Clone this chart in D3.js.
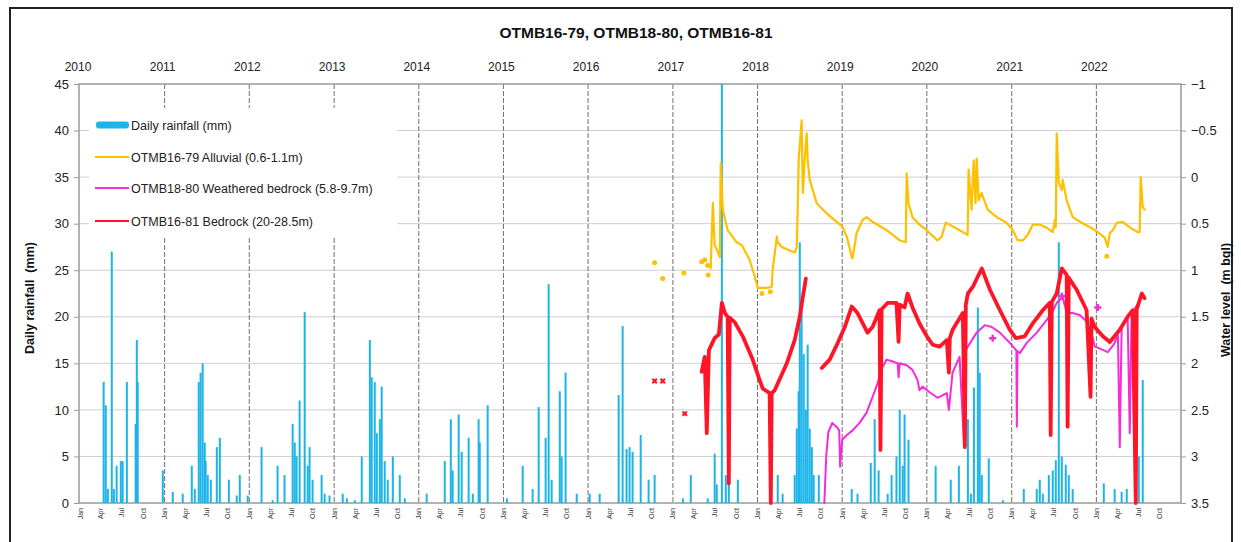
<!DOCTYPE html>
<html>
<head>
<meta charset="utf-8">
<script src="https://cdn.jsdelivr.net/npm/d3@7"></script>
<style>
  body { margin: 0; background: #fff; }
  svg text { font-family: "Liberation Sans", Arial, sans-serif; }
</style>
</head>
<body>
<svg id="chart" width="1241" height="542"></svg>
<script>
// ---- Data -------------------------------------------------------------
const chartTitle = "OTMB16-79, OTMB18-80, OTMB16-81";

// Daily rainfall (mm)
const rainfall = [
  ["2010-04-13",13],["2010-04-22",10.5],["2010-05-01",1.5],["2010-05-18",27],["2010-05-27",1.5],
  ["2010-06-08",4],["2010-06-26",4.5],["2010-07-04",4.5],["2010-07-22",13],["2010-08-29",8.5],
  ["2010-09-03",17.5],["2010-09-07",13],
  ["2010-12-24",3.5],["2011-02-05",1.2],["2011-03-20",1],["2011-04-28",4],["2011-05-11",1.5],
  ["2011-05-28",13],["2011-06-05",14],["2011-06-14",15],["2011-06-23",6.5],["2011-06-27",4.5],
  ["2011-07-06",3],["2011-07-19",2.5],["2011-08-14",6],["2011-08-27",7],["2011-10-05",2.5],
  ["2011-11-08",0.8],["2011-11-21",3],["2011-12-25",0.8],
  ["2012-02-23",6],["2012-04-11",0.3],["2012-05-02",4],["2012-06-01",3],["2012-07-06",8.5],
  ["2012-07-15",6.5],["2012-07-23",5],["2012-08-05",11],["2012-08-27",20.5],["2012-09-09",4],
  ["2012-09-17",6],["2012-09-30",2.5],["2012-11-08",3],["2012-11-21",1],["2012-12-12",0.8],
  ["2013-02-07",1],["2013-02-25",0.5],["2013-03-31",0.3],["2013-04-30",5],["2013-06-04",17.5],
  ["2013-06-12",13.5],["2013-06-25",13],["2013-07-04",7.5],["2013-07-17",9],["2013-07-25",12.5],
  ["2013-08-07",4.5],["2013-08-20",2.5],["2013-09-11",5],["2013-10-11",3],["2013-11-02",0.5],
  ["2014-02-04",1],["2014-04-23",4.5],["2014-05-19",9],["2014-05-27",3.5],["2014-06-22",9.5],
  ["2014-07-05",5.5],["2014-08-04",7],["2014-08-22",1],["2014-09-16",9],["2014-09-21",6.5],
  ["2014-10-25",10.5],
  ["2015-01-16",0.5],["2015-03-25",4],["2015-05-07",1.5],["2015-06-02",10.3],["2015-07-02",7],
  ["2015-07-15",23.5],["2015-07-28",2.5],["2015-09-01",12],["2015-09-09",5],["2015-09-26",14],
  ["2015-11-13",1],
  ["2016-01-08",1],["2016-02-20",1],["2016-05-12",11.6],["2016-05-29",19],["2016-06-15",5.8],
  ["2016-06-28",6],["2016-07-11",5.5],["2016-08-15",7.3],["2016-09-18",2.5],["2016-10-14",3],
  ["2017-02-13",0.5],["2017-03-19",3],["2017-05-31",0.5],["2017-06-30",5.3],["2017-07-09",2],
  ["2017-07-31",45],["2017-08-17",3],["2017-08-30",5.5],["2017-10-08",2.5],
  ["2018-03-29",3],["2018-04-19",1],["2018-06-10",3],["2018-06-19",8],["2018-06-27",12],
  ["2018-07-02",28],["2018-07-10",22],["2018-07-19",16],["2018-07-28",10],["2018-08-05",17],
  ["2018-08-14",8],["2018-08-23",6],["2018-08-31",3],["2018-09-22",3],
  ["2019-02-11",1.5],["2019-03-08",1],["2019-05-04",4.3],["2019-05-21",9],["2019-06-07",3.5],
  ["2019-07-16",1],["2019-08-02",3],["2019-08-23",5],["2019-09-06",10],["2019-09-19",4],
  ["2019-09-27",9.5],["2019-10-14",6.8],
  ["2020-02-08",4],["2020-04-13",2.5],["2020-05-18",4],["2020-06-26",9],["2020-07-09",1],
  ["2020-07-22",12.4],["2020-08-08",21],["2020-08-16",14],["2020-08-25",3],["2020-09-24",4.8],
  ["2020-11-24",0.3],
  ["2021-02-22",1.5],["2021-04-19",1.5],["2021-05-02",2.5],["2021-05-15",1],["2021-06-10",3],
  ["2021-06-27",3.5],["2021-07-10",4.6],["2021-07-23",28],["2021-08-05",5],["2021-08-22",4.1],
  ["2021-09-04",3],["2021-09-21",1.5],
  ["2022-02-02",2.1],["2022-03-21",1.5],["2022-04-20",1.2],["2022-05-12",1.5],["2022-07-03",5],
  ["2022-07-20",13.2]
];

// OTMB16-79 Alluvial (0.6-1.1m), water level m bgl
const alluvial = [
  ["2017-06-13",0.98],["2017-06-22",0.28],["2017-06-30",0.73],["2017-07-13",0.80],["2017-07-22",0.86],
  ["2017-07-26",-0.15],["2017-08-04",0.35],["2017-08-25",0.57],["2017-10-03",0.70],["2017-10-25",0.73],
  ["2017-11-28",0.89],["2017-12-20",1.07],["2018-01-02",1.19],["2018-02-10",1.19],["2018-03-03",1.18],
  ["2018-03-07",1.00],["2018-03-25",0.64],["2018-03-29",0.70],["2018-04-15",0.75],["2018-06-10",0.81],
  ["2018-06-19",0.75],["2018-06-23",0.35],["2018-06-27",-0.18],["2018-07-10",-0.61],["2018-07-15",0.17],
  ["2018-07-23",-0.18],["2018-08-01",-0.47],["2018-08-05",-0.18],["2018-08-14",0.03],["2018-09-13",0.28],
  ["2018-10-26",0.39],["2018-12-08",0.48],["2019-01-01",0.53],["2019-01-21",0.64],["2019-02-11",0.86],
  ["2019-02-15",0.87],["2019-03-04",0.60],["2019-03-30",0.46],["2019-04-16",0.43],["2019-05-12",0.48],
  ["2019-07-12",0.57],["2019-09-06",0.68],["2019-10-02",0.70],["2019-10-06",-0.04],["2019-10-14",0.28],
  ["2019-10-31",0.43],["2019-11-30",0.51],["2019-12-22",0.55],["2020-01-13",0.60],["2020-02-03",0.65],
  ["2020-02-16",0.68],["2020-03-05",0.64],["2020-03-22",0.49],["2020-04-08",0.51],["2020-05-21",0.57],
  ["2020-06-25",0.62],["2020-06-29",-0.08],["2020-07-12",0.35],["2020-07-21",-0.18],["2020-07-29",0.28],
  ["2020-08-03",-0.20],["2020-08-11",0.25],["2020-08-24",0.17],["2020-09-19",0.35],["2020-10-28",0.43],
  ["2020-12-10",0.49],["2021-01-06",0.57],["2021-01-27",0.68],["2021-02-18",0.68],["2021-03-11",0.62],
  ["2021-04-02",0.51],["2021-05-02",0.51],["2021-06-05",0.55],["2021-06-27",0.59],["2021-07-06",0.46],
  ["2021-07-10",0.54],["2021-07-14",-0.47],["2021-07-23",0.06],["2021-08-05",0.14],["2021-08-09",0.03],
  ["2021-08-26",0.25],["2021-09-21",0.43],["2021-10-30",0.49],["2021-12-13",0.55],["2022-01-07",0.59],
  ["2022-02-06",0.65],["2022-02-19",0.75],["2022-02-28",0.60],["2022-03-13",0.57],["2022-03-30",0.49],
  ["2022-04-25",0.48],["2022-05-25",0.54],["2022-06-28",0.59],["2022-07-07",0.59],["2022-07-11",0.0],
  ["2022-07-20",0.32],["2022-07-28",0.35]
];

// OTMB18-80 Weathered bedrock (5.8-9.7m)
const weathered = [
  ["2018-10-16",3.5],["2018-10-24",3.0],["2018-11-02",2.74],["2018-11-19",2.64],["2018-12-07",2.68],
  ["2018-12-19",2.72],["2018-12-23",3.11],["2019-01-01",2.82],["2019-01-21",2.77],["2019-02-15",2.72],
  ["2019-03-17",2.64],["2019-04-16",2.53],["2019-05-12",2.36],["2019-06-03",2.21],["2019-06-24",2.04],
  ["2019-07-12",1.96],["2019-08-07",1.98],["2019-08-28",2.0],["2019-09-01",2.15],["2019-09-06",2.0],
  ["2019-10-06",2.02],["2019-10-31",2.07],["2019-11-22",2.18],["2019-11-30",2.29],["2019-12-13",2.25],
  ["2020-01-13",2.31],["2020-02-16",2.37],["2020-03-27",2.32],["2020-04-05",2.50],["2020-04-21",2.10],
  ["2020-05-21",1.93],["2020-06-09",2.86],["2020-06-17",1.86],["2020-06-26",1.82],["2020-08-03",1.67],
  ["2020-09-07",1.59],["2020-10-07",1.61],["2020-11-11",1.67],["2020-12-24",1.78],["2021-01-21",1.86],
  ["2021-01-23",2.68],["2021-01-26",1.87],["2021-02-05",1.89],["2021-03-07",1.78],["2021-04-19",1.67],
  ["2021-06-02",1.53],["2021-06-23",1.46],["2021-07-14",1.35],["2021-08-09",1.29],["2021-08-26",1.46],
  ["2021-09-21",1.46],["2021-10-21",1.48],["2021-11-20",1.55],["2021-12-11",1.67],["2021-12-25",1.82],
  ["2022-01-15",1.84],["2022-02-19",1.88],["2022-03-17",1.80],["2022-04-04",1.70],["2022-04-12",2.90],
  ["2022-04-20",1.62],["2022-05-16",1.51],["2022-05-25",2.75],["2022-06-02",1.46],["2022-06-28",1.37],
  ["2022-07-20",1.27]
];

// OTMB16-81 Bedrock (20-28.5m), two logged periods
const bedrock2017 = [
  ["2017-05-05",2.09],["2017-05-18",1.93],["2017-05-27",2.75],["2017-06-05",1.86],["2017-06-30",1.73],
  ["2017-07-18",1.69],["2017-07-31",1.35],["2017-08-13",1.46],["2017-08-25",1.50],["2017-08-30",3.29],
  ["2017-09-03",1.51],["2017-09-25",1.56],["2017-10-29",1.71],["2017-12-11",1.96],["2018-01-10",2.18],
  ["2018-01-23",2.27],["2018-02-22",2.32],["2018-02-27",3.5],["2018-03-03",2.32],["2018-03-16",2.29],
  ["2018-05-07",2.0],["2018-06-10",1.75],["2018-07-02",1.50],["2018-07-15",1.29],["2018-07-28",1.09]
];
const bedrock2018 = [
  ["2018-10-05",2.05],["2018-11-08",1.96],["2018-12-13",1.78],["2019-01-12",1.61],["2019-02-11",1.39],
  ["2019-03-08",1.46],["2019-04-20",1.67],["2019-05-12",1.61],["2019-06-11",1.43],["2019-06-15",2.93],
  ["2019-06-20",1.42],["2019-07-16",1.35],["2019-08-23",1.35],["2019-09-01",1.77],["2019-09-06",1.37],
  ["2019-09-27",1.40],["2019-10-10",1.25],["2019-10-31",1.40],["2019-11-30",1.57],["2020-01-01",1.71],
  ["2020-01-26",1.80],["2020-02-25",1.82],["2020-03-27",1.75],["2020-04-05",2.10],["2020-04-09",1.73],
  ["2020-04-21",1.64],["2020-06-04",1.46],["2020-06-13",2.90],["2020-06-17",1.37],["2020-06-26",1.25],
  ["2020-07-17",1.18],["2020-08-25",0.98],["2020-09-29",1.21],["2020-11-11",1.43],["2020-12-24",1.64],
  ["2021-01-19",1.73],["2021-02-26",1.71],["2021-04-02",1.57],["2021-05-15",1.43],["2021-06-14",1.35],
  ["2021-06-18",2.77],["2021-06-23",1.34],["2021-07-14",1.25],["2021-08-05",0.98],["2021-08-26",1.05],
  ["2021-08-30",2.68],["2021-09-04",1.08],["2021-10-08",1.21],["2021-11-20",1.43],["2021-12-07",2.36],
  ["2021-12-11",1.52],["2021-12-25",1.61],["2022-01-29",1.71],["2022-02-28",1.77],["2022-04-12",1.64],
  ["2022-05-16",1.50],["2022-06-07",1.43],["2022-06-20",3.5],["2022-06-24",1.42],["2022-07-16",1.25],
  ["2022-07-28",1.30]
];

// Manual dip readings
const alluvialDips = [
  ["2016-10-14",0.92],["2016-11-18",1.09],["2017-02-17",1.03],["2017-05-05",0.91],["2017-05-18",0.89],
  ["2017-05-31",0.95],["2017-06-02",1.05],["2018-01-20",1.25],["2018-02-25",1.23],["2022-02-15",0.85]
];
const bedrockDips = [["2016-10-14",2.19],["2016-11-18",2.19],["2017-02-21",2.54]];
const weatheredDips = [["2020-10-11",1.73],["2021-08-05",1.28],["2022-01-07",1.40]];

const yearLabels = ["2010","2011","2012","2013","2014","2015","2016","2017","2018","2019","2020","2021","2022"];
const monthLabels = ["Jan","Apr","Jul","Oct"];
const rainTicks = [0,5,10,15,20,25,30,35,40,45];
const levelTicks = [-1,-0.5,0,0.5,1,1.5,2,2.5,3,3.5];

const legendItems = [
  {label: "Daily rainfall (mm)", kind: "bar", color: "#1DB4E8"},
  {label: "OTMB16-79 Alluvial (0.6-1.1m)", kind: "line", color: "#FFC000"},
  {label: "OTMB18-80 Weathered bedrock (5.8-9.7m)", kind: "line", color: "#F72BD9"},
  {label: "OTMB16-81 Bedrock (20-28.5m)", kind: "line", color: "#FF1428"}
];

// ---- Layout -----------------------------------------------------------
const svg = d3.select("#chart");
const L = 79, R = 1181, T = 84, B = 503;
const parse = d3.timeParse("%Y-%m-%d");

const x = d3.scaleTime()
  .domain([new Date(2010, 0, 1), new Date(2023, 0, 1)])
  .range([L + 1, R]);
const yRain = d3.scaleLinear().domain([0, 45]).range([B, T]);
const yLevel = d3.scaleLinear().domain([-1, 3.5]).range([T, B]);

// Outer frame
svg.append("rect").attr("x", 10).attr("y", 8).attr("width", 1222).attr("height", 540)
  .attr("fill", "none").attr("stroke", "#222").attr("stroke-width", 2);

// Title
svg.append("text").attr("x", 636).attr("y", 38).attr("text-anchor", "middle")
  .attr("font-size", 15.5).attr("font-weight", "bold").attr("fill", "#111").text(chartTitle);

// Horizontal grid
svg.append("g").selectAll("line").data(rainTicks.filter(d => d > 0 && d < 45)).join("line")
  .attr("x1", L).attr("x2", R).attr("y1", d => yRain(d)).attr("y2", d => yRain(d))
  .attr("stroke", "#cfcfcf").attr("stroke-width", 1);

// Year dividers
const yearDates = yearLabels.map(y => new Date(+y, 0, 1));
svg.append("g").selectAll("line").data(yearDates.slice(1)).join("line")
  .attr("x1", d => x(d)).attr("x2", d => x(d)).attr("y1", T).attr("y2", B)
  .attr("stroke", "#6f6f6f").attr("stroke-width", 1).attr("stroke-dasharray", "5,2");

// Plot frame
svg.append("rect").attr("x", L).attr("y", T).attr("width", R - L).attr("height", B - T)
  .attr("fill", "none").attr("stroke", "#9a9a9a").attr("stroke-width", 1.5);

// Left axis
const leftAxis = svg.append("g").attr("transform", `translate(${L},0)`)
  .call(d3.axisLeft(yRain).tickValues(rainTicks).tickSize(5).tickPadding(5));
leftAxis.select(".domain").remove();
leftAxis.selectAll("line").attr("stroke", "#9a9a9a");
leftAxis.selectAll("text").attr("font-size", 13).attr("fill", "#222")
  .attr("font-family", "Liberation Sans, Arial, sans-serif");

// Right axis
const rightAxis = svg.append("g").attr("transform", `translate(${R},0)`)
  .call(d3.axisRight(yLevel).tickValues(levelTicks).tickSize(5).tickPadding(5).tickFormat(d3.format("")));
rightAxis.select(".domain").remove();
rightAxis.selectAll("line").attr("stroke", "#9a9a9a");
rightAxis.selectAll("text").attr("font-size", 13).attr("fill", "#222")
  .attr("font-family", "Liberation Sans, Arial, sans-serif");

// Year labels across the top
svg.append("g").selectAll("text").data(yearLabels).join("text")
  .attr("x", d => x(new Date(+d, 0, 1)) - 2).attr("y", 71).attr("text-anchor", "middle")
  .attr("font-size", 12).attr("fill", "#222").text(d => d);

// Quarterly month labels along the bottom
const quarterTicks = [];
yearLabels.forEach(yr => monthLabels.forEach((m, i) => quarterTicks.push({date: new Date(+yr, i * 3, 1), label: m})));
svg.append("g").selectAll("text").data(quarterTicks).join("text")
  .attr("transform", d => `translate(${x(d.date) + 2.5},${B + 5}) rotate(-90)`)
  .attr("text-anchor", "end").attr("font-size", 7).attr("fill", "#333").text(d => d.label);

// Axis titles
svg.append("text").attr("transform", "translate(34,298) rotate(-90)").attr("text-anchor", "middle")
  .attr("font-size", 12.5).attr("font-weight", "bold").attr("fill", "#111").attr("xml:space", "preserve")
  .text("Daily rainfall  (mm)");
svg.append("text").attr("transform", "translate(1230,300) rotate(-90)").attr("text-anchor", "middle")
  .attr("font-size", 12.5).attr("font-weight", "bold").attr("fill", "#111").attr("xml:space", "preserve")
  .text("Water level  (m bgl)");

// Rainfall bars
svg.append("g").selectAll("rect").data(rainfall).join("rect")
  .attr("x", d => x(parse(d[0])) - 1).attr("width", 2)
  .attr("y", d => yRain(d[1])).attr("height", d => B - yRain(d[1]))
  .attr("fill", legendItems[0].color);

// Water level lines
const line = d3.line().x(d => x(parse(d[0]))).y(d => yLevel(d[1]));
const drawLine = (data, color, w) => svg.append("path").datum(data)
  .attr("d", line).attr("fill", "none").attr("stroke", color).attr("stroke-width", w)
  .attr("stroke-linejoin", "round").attr("stroke-linecap", "round");

drawLine(alluvial, legendItems[1].color, 2.2);
drawLine(weathered, legendItems[2].color, 2);
drawLine(bedrock2017, legendItems[3].color, 3.8);
drawLine(bedrock2018, legendItems[3].color, 3.8);

// Dip readings
svg.append("g").selectAll("circle").data(alluvialDips).join("circle")
  .attr("cx", d => x(parse(d[0]))).attr("cy", d => yLevel(d[1])).attr("r", 2.5)
  .attr("fill", legendItems[1].color);
svg.append("g").selectAll("path").data(bedrockDips).join("path")
  .attr("transform", d => `translate(${x(parse(d[0]))},${yLevel(d[1])}) rotate(45)`)
  .attr("d", d3.symbol(d3.symbolCross, 22)).attr("fill", legendItems[3].color);
svg.append("g").selectAll("path").data(weatheredDips).join("path")
  .attr("transform", d => `translate(${x(parse(d[0]))},${yLevel(d[1])})`)
  .attr("d", d3.symbol(d3.symbolCross, 28)).attr("fill", legendItems[2].color);

// Legend
const lg = svg.append("g");
lg.append("rect").attr("x", 89).attr("y", 108).attr("width", 308).attr("height", 129).attr("fill", "#fff");
const rowY = [125, 157, 188, 221];
legendItems.forEach((item, i) => {
  if (item.kind === "bar") {
    lg.append("rect").attr("x", 96).attr("y", rowY[i] - 3.5).attr("width", 33).attr("height", 7)
      .attr("rx", 3).attr("fill", item.color);
  } else {
    lg.append("line").attr("x1", 95).attr("x2", 129).attr("y1", rowY[i]).attr("y2", rowY[i])
      .attr("stroke", item.color).attr("stroke-width", 2);
  }
  lg.append("text").attr("x", 131).attr("y", rowY[i] + 4.5).attr("font-size", 12.5)
    .attr("fill", "#222").text(item.label);
});
</script>
</body>
</html>
